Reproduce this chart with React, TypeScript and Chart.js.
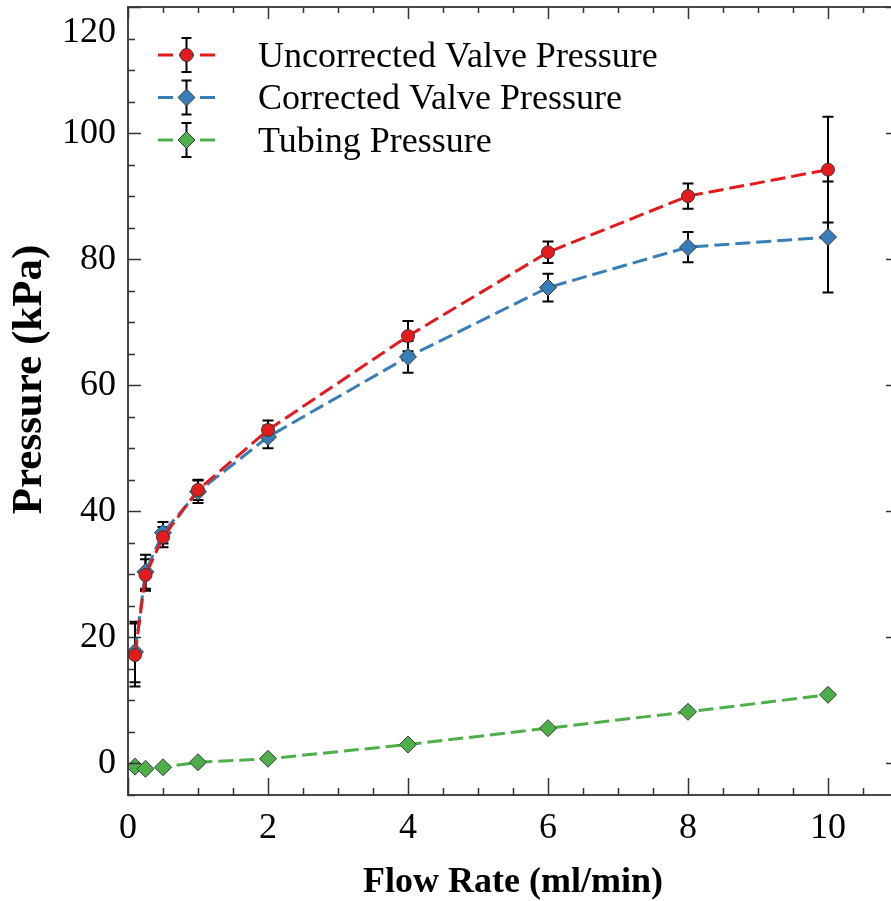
import React, { useEffect, useRef } from 'react';
import { Chart, registerables } from 'chart.js';

Chart.register(...registerables);

// ---- data ----
const FLOW_RATES = [0.1, 0.25, 0.5, 1, 2, 4, 6, 8, 10];
const UNCORRECTED = [17.2, 29.9, 35.9, 43.4, 52.9, 67.8, 81.1, 90.0, 94.2];
const UNCORRECTED_ERR = [5.0, 2.5, 1.6, 1.6, 1.5, 2.4, 1.7, 2.0, 8.4];
const CORRECTED = [17.7, 30.4, 36.6, 43.1, 51.8, 64.5, 75.5, 81.9, 83.5];
const CORRECTED_ERR = [4.8, 2.7, 1.7, 1.8, 1.8, 2.5, 2.2, 2.4, 8.8];
const TUBING = [-0.5, -0.85, -0.6, 0.2, 0.75, 3.0, 5.6, 8.2, 10.9];
const TUBING_ERR = [0.3, 0.3, 0.3, 0.3, 0.3, 0.3, 0.3, 0.3, 0.3];

const SERIES_LABELS = ['Uncorrected Valve Pressure', 'Corrected Valve Pressure', 'Tubing Pressure'];
const X_TICKS = [0, 2, 4, 6, 8, 10];
const Y_TICKS = [0, 20, 40, 60, 80, 100, 120];
const X_MINOR_STEP = 0.5;
const Y_MINOR_STEP = 5;
const X_RANGE = [0, 11];
const Y_RANGE = [-5, 120];
const X_TITLE = 'Flow Rate (ml/min)';
const Y_TITLE = 'Pressure (kPa)';

// ---- styles ----
const RED = '#e41a1c';
const BLUE = '#377eb8';
const GREEN = '#4daf4a';
const EDGE = '#3a3a3a';
const AXIS = '#333333';
const SERIF = "'Liberation Serif', 'Times New Roman', serif";
const DASH = [15, 6];
const RIGHT_OVERHANG = 7; // right spine sits just past the picture edge

const ERRORS = [UNCORRECTED_ERR, CORRECTED_ERR, TUBING_ERR];

function drawMarker(ctx: CanvasRenderingContext2D, style: string, x: number, y: number, r: number, color: string) {
  ctx.save();
  ctx.beginPath();
  if (style === 'circle') {
    ctx.arc(x, y, r, 0, Math.PI * 2);
  } else {
    ctx.moveTo(x - r, y);
    ctx.lineTo(x, y - r);
    ctx.lineTo(x + r, y);
    ctx.lineTo(x, y + r);
    ctx.closePath();
  }
  ctx.fillStyle = color;
  ctx.fill();
  ctx.lineWidth = 1;
  ctx.strokeStyle = EDGE;
  ctx.setLineDash([]);
  ctx.stroke();
  ctx.restore();
}

const overhangPlugin = {
  id: 'overhang',
  afterLayout(chart: any) {
    const area = chart.chartArea;
    const newRight = chart.width + RIGHT_OVERHANG;
    area.right = newRight;
    area.width = newRight - area.left;
    const xs = chart.scales.x;
    xs.right = newRight;
    xs.width = newRight - xs.left;
    xs.configure();
  },
};

const errorBarPlugin = {
  id: 'errorBars',
  beforeDatasetsDraw(chart: any) {
    const ctx = chart.ctx as CanvasRenderingContext2D;
    const xs = chart.scales.x;
    const ys = chart.scales.y;
    ctx.save();
    ctx.strokeStyle = '#000';
    ctx.lineWidth = 2;
    ctx.setLineDash([]);
    for (let d = ERRORS.length - 1; d >= 0; d--) {
      const ds = chart.data.datasets[d];
      ds.data.forEach((pt: any, i: number) => {
        const e = ERRORS[d][i];
        const px = xs.getPixelForValue(pt.x);
        const top = ys.getPixelForValue(pt.y + e);
        const bot = ys.getPixelForValue(pt.y - e);
        ctx.beginPath();
        ctx.moveTo(px, top);
        ctx.lineTo(px, bot);
        ctx.moveTo(px - 5.5, top);
        ctx.lineTo(px + 5.5, top);
        ctx.moveTo(px - 5.5, bot);
        ctx.lineTo(px + 5.5, bot);
        ctx.stroke();
      });
    }
    ctx.restore();
  },
};

const frameTicksPlugin = {
  id: 'frameTicks',
  afterDraw(chart: any) {
    const ctx = chart.ctx as CanvasRenderingContext2D;
    const { left, right, top, bottom } = chart.chartArea;
    const xs = chart.scales.x;
    const ys = chart.scales.y;
    ctx.save();
    ctx.strokeStyle = AXIS;
    ctx.lineWidth = 1.8;
    ctx.setLineDash([]);
    ctx.strokeRect(left, top, right - left, bottom - top);
    ctx.lineWidth = 1.5;
    ctx.beginPath();
    for (let v = X_RANGE[0]; v <= X_RANGE[1] + 1e-9; v += X_MINOR_STEP) {
      const major = Math.abs(v % 2) < 1e-9;
      const p = Math.round(xs.getPixelForValue(v)) + 0.5;
      ctx.moveTo(p, bottom);
      ctx.lineTo(p, bottom - (major ? 17 : 7));
      ctx.moveTo(p, top);
      ctx.lineTo(p, top + (major ? 12 : 6));
    }
    for (let v = Y_RANGE[0]; v <= Y_RANGE[1] + 1e-9; v += Y_MINOR_STEP) {
      const major = Y_TICKS.some((t) => Math.abs(t - v) < 1e-9);
      const p = Math.round(ys.getPixelForValue(v)) + 0.5;
      ctx.moveTo(left, p);
      ctx.lineTo(left + (major ? 13 : 7), p);
      ctx.moveTo(right, p);
      ctx.lineTo(right - (major ? 12 : 6), p);
    }
    ctx.stroke();
    ctx.restore();
  },
};

const legendPlugin = {
  id: 'customLegend',
  afterDraw(chart: any) {
    const ctx = chart.ctx as CanvasRenderingContext2D;
    const rows = [
      { color: RED, marker: 'circle', r: 6.5 },
      { color: BLUE, marker: 'diamond', r: 8.5 },
      { color: GREEN, marker: 'diamond', r: 8.5 },
    ];
    ctx.save();
    rows.forEach((row, i) => {
      const cy = 55 + i * 42.5;
      const mx = 186.5;
      ctx.beginPath();
      ctx.strokeStyle = row.color;
      ctx.lineWidth = 3;
      ctx.setLineDash(DASH);
      ctx.moveTo(158, cy);
      ctx.lineTo(215, cy);
      ctx.stroke();
      ctx.beginPath();
      ctx.setLineDash([]);
      ctx.strokeStyle = '#000';
      ctx.lineWidth = 2;
      ctx.moveTo(mx, cy - 17);
      ctx.lineTo(mx, cy + 17);
      ctx.moveTo(mx - 5, cy - 17);
      ctx.lineTo(mx + 5, cy - 17);
      ctx.moveTo(mx - 5, cy + 17);
      ctx.lineTo(mx + 5, cy + 17);
      ctx.stroke();
      drawMarker(ctx, row.marker, mx, cy, row.r, row.color);
      ctx.fillStyle = '#000';
      ctx.font = `36px ${SERIF}`;
      ctx.textAlign = 'left';
      ctx.textBaseline = 'alphabetic';
      ctx.fillText(SERIES_LABELS[i], 258, cy + 11.8);
    });
    ctx.restore();
  },
};

function makeData(values: number[]) {
  return FLOW_RATES.map((x, i) => ({ x, y: values[i] }));
}

export default function App() {
  const canvasRef = useRef<HTMLCanvasElement | null>(null);

  useEffect(() => {
    const canvas = canvasRef.current;
    if (!canvas) return;
    const common = {
      borderWidth: 3,
      borderDash: DASH,
      pointBorderColor: EDGE,
      pointBorderWidth: 1,
      tension: 0,
      fill: false,
    };
    const chart = new Chart(canvas, {
      type: 'line',
      data: {
        datasets: [
          {
            ...common,
            label: SERIES_LABELS[0],
            data: makeData(UNCORRECTED),
            borderColor: RED,
            backgroundColor: RED,
            pointBackgroundColor: RED,
            pointStyle: 'circle',
            pointRadius: 6.5,
          },
          {
            ...common,
            label: SERIES_LABELS[1],
            data: makeData(CORRECTED),
            borderColor: BLUE,
            backgroundColor: BLUE,
            pointBackgroundColor: BLUE,
            pointStyle: 'rectRot',
            pointRadius: 8.5,
          },
          {
            ...common,
            label: SERIES_LABELS[2],
            data: makeData(TUBING),
            borderColor: GREEN,
            backgroundColor: GREEN,
            pointBackgroundColor: GREEN,
            pointStyle: 'rectRot',
            pointRadius: 8.5,
          },
        ],
      },
      options: {
        responsive: true,
        maintainAspectRatio: false,
        animation: false,
        events: [],
        layout: { autoPadding: false, padding: { top: 7, right: 0, left: 0, bottom: 0 } },
        plugins: {
          legend: { display: false },
          tooltip: { enabled: false },
        },
        scales: {
          x: {
            type: 'linear',
            min: X_RANGE[0],
            max: X_RANGE[1],
            grid: { display: false, drawTicks: false },
            border: { display: false },
            afterBuildTicks: (scale: any) => {
              scale.ticks = X_TICKS.map((v) => ({ value: v }));
            },
            afterFit: (scale: any) => {
              scale.height = 106;
              scale.paddingLeft = 0;
              scale.paddingRight = 0;
              scale.paddingTop = 0;
              scale.paddingBottom = 0;
            },
            ticks: {
              color: '#000',
              padding: 12,
              maxRotation: 0,
              autoSkip: false,
              font: { family: SERIF, size: 36, lineHeight: 1.2 },
              callback: (v: any) => String(v),
            },
            title: {
              display: true,
              text: X_TITLE,
              color: '#000',
              font: { family: SERIF, size: 36, weight: 'bold', lineHeight: 1 },
              padding: { top: 0, bottom: 0 },
            },
          },
          y: {
            type: 'linear',
            min: Y_RANGE[0],
            max: Y_RANGE[1],
            grid: { display: false, drawTicks: false },
            border: { display: false },
            afterBuildTicks: (scale: any) => {
              scale.ticks = Y_TICKS.map((v) => ({ value: v }));
            },
            afterFit: (scale: any) => {
              scale.width = 128;
              scale.paddingTop = 0;
              scale.paddingBottom = 0;
              scale.paddingLeft = 0;
              scale.paddingRight = 0;
            },
            ticks: {
              color: '#000',
              padding: 12,
              autoSkip: false,
              font: { family: SERIF, size: 36, lineHeight: 1.4 },
              callback: (v: any) => (v === Y_TICKS[Y_TICKS.length - 1] ? ['', String(v)] : String(v)),
            },
            title: {
              display: true,
              text: '    ' + Y_TITLE,
              color: '#000',
              font: { family: SERIF, size: 43, weight: 'bold', lineHeight: 1 },
              padding: { top: 8, bottom: 0 },
            },
          },
        },
      },
      plugins: [overhangPlugin, errorBarPlugin, frameTicksPlugin, legendPlugin],
    } as any);
    return () => chart.destroy();
  }, []);

  return (
    <div
      style={{
        position: 'fixed',
        left: 0,
        top: 0,
        width: 891,
        height: 901,
        overflow: 'hidden',
        background: '#fff',
      }}
    >
      <div style={{ position: 'relative', width: 891, height: 901 }}>
        <canvas ref={canvasRef} />
      </div>
    </div>
  );
}
